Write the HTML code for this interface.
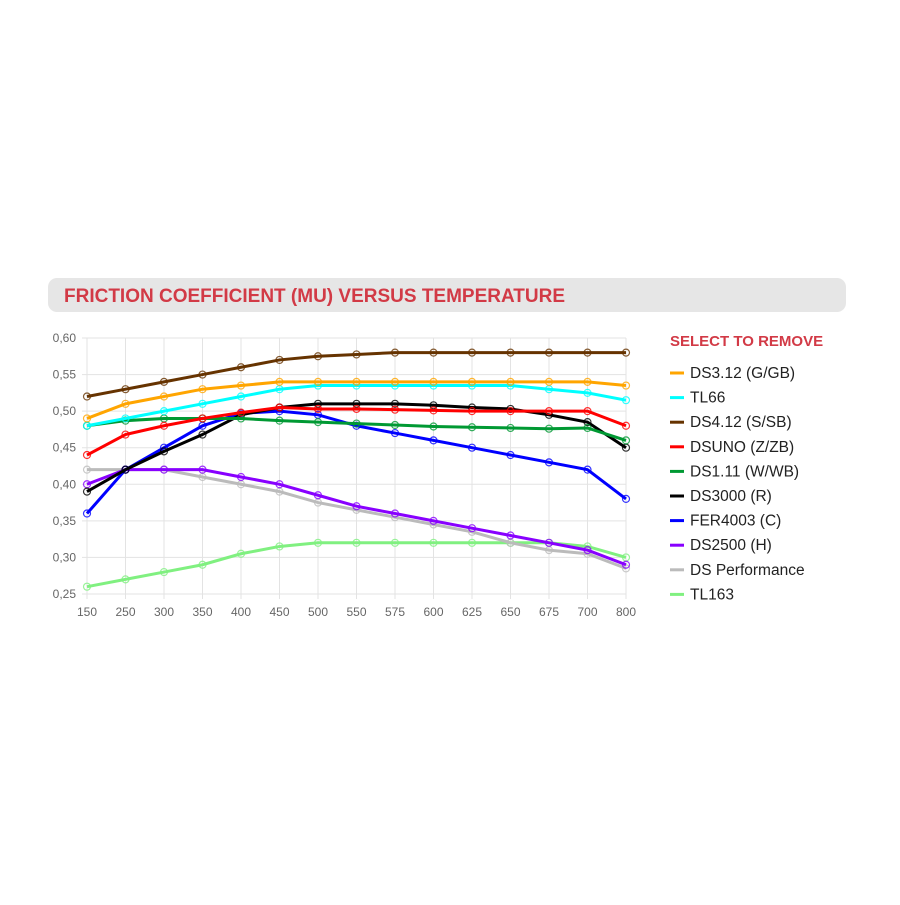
<!DOCTYPE html><html><head><style>body{margin:0;background:#fff;width:900px;height:900px;overflow:hidden;font-family:"Liberation Sans",sans-serif}</style></head><body>
<svg id="s" width="900" height="900" xmlns="http://www.w3.org/2000/svg">
<rect x="48" y="278" width="798" height="34" rx="9" fill="#e6e6e6"/>
<text x="64" y="302" font-size="19" font-weight="bold" fill="#d23a46" font-family="Liberation Sans,sans-serif">FRICTION COEFFICIENT (MU) VERSUS TEMPERATURE</text>
<text x="670" y="346" font-size="15" font-weight="bold" fill="#d23a46" font-family="Liberation Sans,sans-serif">SELECT TO REMOVE</text>
<g id="g"></g>
</svg>
<script>
var g=document.getElementById('g'),h='';
var X=function(i){return 87+i*38.5},Y=function(v){return 338+(0.60-v)/0.05*36.57};
var xl=[150,250,300,350,400,450,500,550,575,600,625,650,675,700,800];
for(var i=0;i<15;i++){h+='<line x1="'+X(i)+'" y1="338" x2="'+X(i)+'" y2="599" stroke="#e3e3e3"/>';h+='<text x="'+X(i)+'" y="616" font-size="12" fill="#666" text-anchor="middle">'+xl[i]+'</text>';}
for(var k=0;k<8;k++){var v=0.60-k*0.05,y=Y(v);h+='<line x1="82" y1="'+y+'" x2="626" y2="'+y+'" stroke="#e3e3e3"/>';h+='<text x="76" y="'+(y+4)+'" font-size="12" fill="#666" text-anchor="end">'+v.toFixed(2).replace('.',',')+'</text>';}
var S=[
['DS3.12 (G/GB)','#ffa500',[.49,.51,.52,.53,.535,.54,.54,.54,.54,.54,.54,.54,.54,.54,.535]],
['TL66','#00ffff',[.48,.49,.50,.51,.52,.53,.535,.535,.535,.535,.535,.535,.53,.525,.515]],
['DS4.12 (S/SB)','#663300',[.52,.53,.54,.55,.56,.57,.575,.5775,.58,.58,.58,.58,.58,.58,.58]],
['DSUNO (Z/ZB)','#ff0000',[.44,.468,.48,.49,.498,.505,.503,.503,.502,.501,.5,.5,.5,.5,.48]],
['DS1.11 (W/WB)','#009933',[.48,.487,.49,.49,.49,.487,.485,.483,.481,.479,.478,.477,.476,.477,.46]],
['DS3000 (R)','#000000',[.39,.42,.445,.468,.495,.505,.51,.51,.51,.508,.505,.503,.495,.485,.45]],
['FER4003 (C)','#0000ff',[.36,.42,.45,.48,.497,.5,.495,.48,.47,.46,.45,.44,.43,.42,.38]],
['DS2500 (H)','#8800ff',[.40,.42,.42,.42,.41,.40,.385,.37,.36,.35,.34,.33,.32,.31,.29]],
['DS Performance','#bbbbbb',[.42,.42,.42,.41,.40,.39,.375,.365,.355,.345,.335,.32,.31,.305,.285]],
['TL163','#80f080',[.26,.27,.28,.29,.305,.315,.32,.32,.32,.32,.32,.32,.32,.315,.30]]];
for(var j=S.length-1;j>=0;j--){var s=S[j],p='';for(var i=0;i<15;i++)p+=X(i)+','+Y(s[2][i])+' ';
h+='<polyline points="'+p+'" fill="none" stroke="'+s[1]+'" stroke-width="3"/>';
for(var i=0;i<15;i++)h+='<circle cx="'+X(i)+'" cy="'+Y(s[2][i])+'" r="3.5" fill="none" stroke="'+s[1]+'" stroke-width="1.2" opacity="0.8"/>';}
for(var j=0;j<S.length;j++){var y=373+j*24.6;h+='<line x1="670" y1="'+y+'" x2="684" y2="'+y+'" stroke="'+S[j][1]+'" stroke-width="3"/>';h+='<text x="690" y="'+(y+5)+'" font-size="15.5" fill="#222">'+S[j][0]+'</text>';}
g.innerHTML=h;
</script></body></html>
